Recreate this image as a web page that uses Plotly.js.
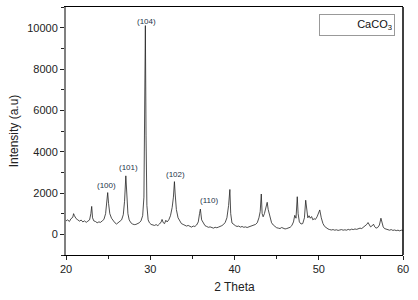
<!DOCTYPE html>
<html><head><meta charset="utf-8">
<script src="https://cdn.plot.ly/plotly-3.0.1.min.js"></script>
<style>html,body{margin:0;padding:0;background:#fff}#c{width:418px;height:300px}</style>
</head><body><div id="c"></div>
<script>
const twoTheta = [20.0,20.2,20.4,20.6,20.8,20.9,21.0,21.2,21.4,21.6,21.8,22.0,22.2,22.4,22.6,22.8,22.95,23.05,23.15,23.3,23.5,23.7,23.9,24.1,24.3,24.5,24.7,24.85,24.95,25.05,25.2,25.4,25.6,25.8,26.0,26.2,26.4,26.6,26.8,26.95,27.1,27.2,27.35,27.5,27.7,27.9,28.1,28.3,28.5,28.7,28.9,29.1,29.25,29.35,29.42,29.5,29.6,29.75,29.9,30.1,30.3,30.5,30.7,30.9,31.1,31.3,31.4,31.55,31.7,31.85,32.0,32.2,32.4,32.6,32.75,32.87,32.95,33.1,33.3,33.5,33.7,33.9,34.1,34.3,34.5,34.7,34.9,35.1,35.3,35.5,35.7,35.85,35.95,36.1,36.3,36.5,36.7,36.9,37.1,37.3,37.5,37.7,37.9,38.1,38.3,38.5,38.7,38.9,39.1,39.3,39.45,39.55,39.7,39.9,40.1,40.3,40.5,40.7,40.9,41.1,41.3,41.5,41.7,41.9,42.1,42.3,42.5,42.7,42.9,43.05,43.18,43.28,43.4,43.55,43.7,43.88,44.0,44.2,44.4,44.6,44.8,45.0,45.2,45.4,45.6,45.8,46.0,46.2,46.4,46.6,46.8,47.0,47.15,47.3,47.45,47.55,47.7,47.9,48.1,48.3,48.45,48.55,48.7,48.85,49.0,49.15,49.3,49.45,49.6,49.8,50.0,50.12,50.3,50.5,50.7,50.9,51.1,51.3,51.5,51.7,51.9,52.1,52.3,52.5,52.7,52.9,53.1,53.3,53.5,53.7,53.9,54.1,54.3,54.5,54.7,54.9,55.1,55.3,55.5,55.7,55.85,56.0,56.15,56.3,56.5,56.65,56.8,57.0,57.2,57.38,57.5,57.65,57.8,58.0,58.2,58.4,58.6,58.8,59.0,59.2,59.4,59.6,59.8,60.0];
const intensity = [650,700,620,760,820,1000,900,760,700,640,690,600,650,580,640,700,1000,1350,800,650,620,560,600,580,650,720,1000,1600,2020,1500,1000,780,640,560,500,560,620,700,950,1600,2830,1700,1000,700,560,500,470,480,520,560,650,900,1800,8600,10100,4800,1400,700,560,480,450,430,470,420,500,600,720,560,520,680,600,700,900,1300,1800,2550,2000,1200,800,620,520,480,450,400,430,380,350,400,380,450,600,1000,1220,700,520,420,380,340,360,320,300,340,320,350,380,420,480,580,800,1400,2170,1000,550,460,420,380,400,350,380,340,360,330,360,380,400,430,480,560,800,1100,1950,1000,850,1000,1300,1550,1200,800,560,450,380,320,300,280,330,280,260,280,300,340,420,600,920,780,1820,1000,600,500,520,800,1650,1200,800,900,780,860,700,760,720,850,1100,1180,800,520,380,300,260,230,210,230,200,220,190,210,230,200,220,200,240,210,250,230,260,240,280,300,280,340,400,480,570,440,360,400,490,360,300,330,450,780,550,360,280,240,220,200,230,190,210,180,200,170,200,190];

const peakLabels = ["(100)","(101)","(104)","(102)","(110)"];
const peakLabelX = [24.75,27.4,29.5,33.0,36.97];
const peakLabelY = [2380,3240,10290,2880,1620];

const xTickVals = [20,30,40,50,60];
const yTickVals = [0,2000,4000,6000,8000,10000];

const fontFam = "Liberation Sans, Arial, sans-serif";
const annotations = peakLabels.map((t,i)=>({
  x: peakLabelX[i], y: peakLabelY[i], xref:'x', yref:'y', text:t, showarrow:false,
  font:{family:fontFam,size:8,color:'#24344a'}, xanchor:'center', yanchor:'middle'
}));
annotations.push({
  xref:'paper', yref:'paper', x:0.976, y:0.972, xanchor:'right', yanchor:'top',
  text:'CaCO<sub>3</sub>', showarrow:false, align:'right', width:70, height:16,
  borderpad:2, bordercolor:'#999', borderwidth:1, bgcolor:'#fff',
  font:{family:fontFam,size:11,color:'#111'}
});

Plotly.newPlot('c', [{
  x: twoTheta, y: intensity, type:'scatter', mode:'lines',
  line:{color:'#222', width:0.8}, showlegend:false, hoverinfo:'skip'
}], {
  width:418, height:300,
  margin:{l:66, r:15, t:7, b:45},
  paper_bgcolor:'#fff', plot_bgcolor:'#fff',
  font:{family:fontFam, size:11, color:'#222'},
  xaxis:{
    range:[20,60], tickvals:xTickVals, ticktext:xTickVals.map(String),
    ticks:'outside', ticklen:4, tickcolor:'#222', tickwidth:1,
    minor:{dtick:5, ticks:'outside', ticklen:3, tickcolor:'#222'},
    showgrid:false, zeroline:false, showline:true, linecolor:'#000', linewidth:1.2, mirror:true,
    title:{text:'2 Theta', font:{family:fontFam,size:12,color:'#222'}, standoff:8},
    tickfont:{size:11}
  },
  yaxis:{
    range:[-1000,11000], tickvals:yTickVals, ticktext:yTickVals.map(String),
    ticks:'outside', ticklen:4, tickcolor:'#222', tickwidth:1,
    minor:{dtick:1000, ticks:'outside', ticklen:3, tickcolor:'#222'},
    showgrid:false, zeroline:false, showline:true, linecolor:'#808080', linewidth:2, mirror:false,
    title:{text:'Intensity (a.u)', font:{family:fontFam,size:12,color:'#222'}, standoff:6},
    tickfont:{size:11}
  },
  shapes:[{type:'line', xref:'paper', yref:'paper', x0:1, x1:1, y0:0, y1:1, line:{color:'#000', width:1.5}}],
  annotations: annotations
}, {staticPlot:true, displayModeBar:false});
</script></body></html>
